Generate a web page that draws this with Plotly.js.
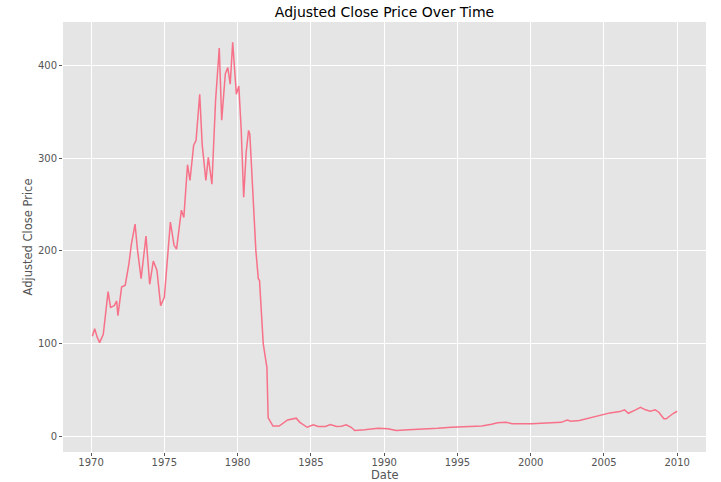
<!DOCTYPE html>
<html>
<head>
<meta charset="utf-8">
<script src="https://cdn.plot.ly/plotly-3.0.1.min.js"></script>
<style>html,body{margin:0;padding:0;background:#fff;}#chart{width:721px;height:482px;}</style>
</head>
<body>
<div id="chart"></div>
<script>
var dates = [
"1970-02","1970-04","1970-06","1970-08","1970-11","1971-03","1971-05","1971-08","1971-10","1971-11",
"1972-02","1972-05","1972-08","1972-10","1973-01","1973-03","1973-06","1973-10","1974-01","1974-04",
"1974-07","1974-10","1975-01","1975-04","1975-06","1975-09","1975-11","1976-03","1976-05","1976-08",
"1976-10","1977-01","1977-03","1977-06","1977-08","1977-11","1978-01","1978-04","1978-07","1978-10",
"1978-12","1979-03","1979-05","1979-07","1979-09","1979-12","1980-02","1980-04","1980-06","1980-08",
"1980-10","1980-11","1981-02","1981-04","1981-06","1981-07","1981-10","1982-01","1982-02","1982-06",
"1982-11","1983-04","1983-06","1984-01","1984-04","1984-10","1985-03","1985-07","1986-01","1986-05",
"1986-10","1987-02","1987-06","1987-10","1988-01","1988-09","1989-08","1990-04","1990-11","1991-09",
"1992-10","1993-09","1994-08","1995-07","1996-09","1997-05","1997-10","1998-05","1998-10","2000-02",
"2000-11","2001-06","2002-02","2002-07","2002-10","2003-05","2004-01","2004-07","2005-01","2005-06",
"2005-10","2006-02","2006-06","2006-09","2007-03","2007-07","2007-11","2008-03","2008-07","2008-10",
"2009-02","2009-04","2009-10","2010-01"
];
var adjClose = [
108,116,107,101,110,156,139,141,146,130,
161,163,186,207,229,202,170,216,164,189,
179,141,150,200,231,206,202,244,236,293,
276,314,319,369,315,276,301,272,362,419,
341,391,398,380,425,369,378,330,258,306,
330,326,254,200,170,168,100,74,20,11,
11,16,17.6,19.5,15,9.7,12.3,10.5,10.5,12.6,
10.5,10.8,12.3,9.7,6.2,6.9,8.6,8,6.2,6.9,
7.5,8.6,9.7,10.5,11,13,14.5,15,13.4,13.4,
14,15,15,17.6,16.2,17,19.8,21.6,24.2,25.2,
25.9,26.6,28.5,24.8,28.5,31.3,28.5,27,28.5,25.9,
18.8,18.8,24.8,27
];
var yTicks = [0,100,200,300,400];
var xTitle = "Date";
var yTitle = "Adjusted Close Price";

var font = "DejaVu Sans, sans-serif";
var trace = {
  x: dates, y: adjClose, type: "scatter", mode: "lines",
  line: {color: "#f77189", width: 1.5}, hoverinfo: "skip"
};
var layout = {
  width: 721, height: 482,
  margin: {l: 63, r: 15, t: 22, b: 30},
  paper_bgcolor: "#ffffff", plot_bgcolor: "#e5e5e5",
  showlegend: false,
  title: {text: "Adjusted Close Price Over Time", font: {family: font, size: 14, color: "#000"},
          x: 0.5, xref: "paper", y: 1 - 12/482, yref: "container", yanchor: "middle"},
  xaxis: {
    type: "date", range: ["1968-02-01", "2011-12-20"],
    tick0: "1970-01-01", dtick: "M60", tickformat: "%Y",
    showgrid: true, gridcolor: "#ffffff", gridwidth: 1, zeroline: false,
    ticks: "outside", ticklen: 3, tickcolor: "#555", tickwidth: 1,
    ticklabelstandoff: -2,
    tickfont: {family: font, size: 10, color: "#555"},
    showline: false, automargin: false
  },
  yaxis: {
    range: [-17, 447], tickvals: yTicks, ticktext: yTicks.map(String),
    showgrid: true, gridcolor: "#ffffff", gridwidth: 1, zeroline: false,
    ticks: "outside", ticklen: 3, tickcolor: "#555", tickwidth: 1,
    tickfont: {family: font, size: 10, color: "#555"},
    showline: false, automargin: false,
    title: {text: yTitle, font: {family: font, size: 11.5, color: "#555"}, standoff: 2}
  },
  annotations: [{
    text: xTitle, xref: "paper", yref: "paper", x: 0.5, y: 0,
    yshift: -23, xanchor: "center", yanchor: "middle", showarrow: false,
    font: {family: font, size: 11.5, color: "#555"}
  }]
};
Plotly.newPlot("chart", [trace], layout, {displayModeBar: false, staticPlot: true});
</script>
</body>
</html>
